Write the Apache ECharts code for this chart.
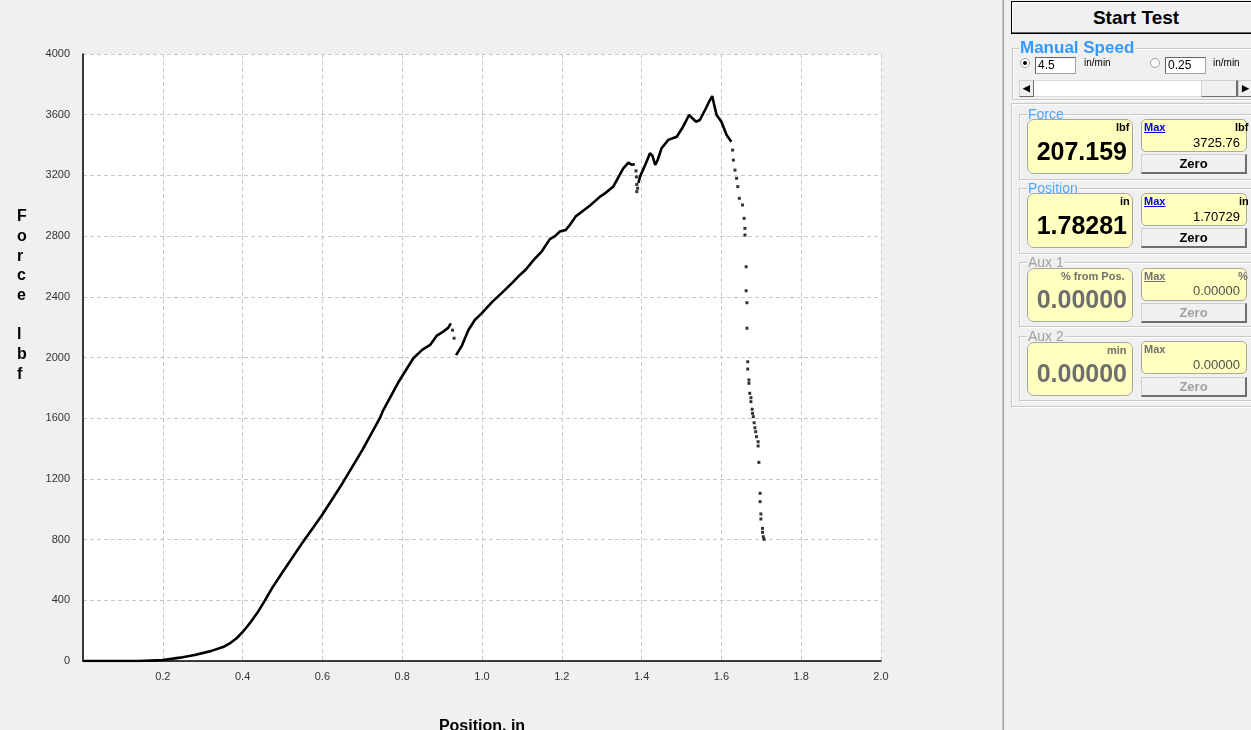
<!DOCTYPE html>
<html>
<head>
<meta charset="utf-8">
<script src="https://cdn.jsdelivr.net/npm/echarts@6/dist/echarts.min.js"></script>
<style>
  html,body{margin:0;padding:0;width:1251px;height:730px;overflow:hidden;background:#f0f0f0;font-family:"Liberation Sans",Arial,sans-serif;}
  #chart{position:absolute;left:0;top:0;width:1251px;height:730px;}
  .abs{position:absolute;box-sizing:border-box;}
  .sep1{left:1002px;top:0;width:1px;height:730px;background:#c8c8c8;}
  .sep2{left:1003px;top:0;width:1px;height:730px;background:#a0a0a0;}
  .btn{background:#f0f0f0;border:1px solid #000;box-shadow:inset -1px -1px 0 #696969, inset 1px 1px 0 #fff;text-align:center;font-weight:bold;}
  .frame{border:1px solid #c8c8c8;box-shadow:1px 1px 0 #fff, inset 1px 1px 0 #fff;}
  .title{background:#f0f0f0;padding:0 1px;font-weight:bold;line-height:1;white-space:nowrap;}
  .disp{background:#ffffc0;border:1px solid #a8a8a0;border-radius:7px;}
  .zero{background:#f0f0f0;border:1px solid #d0d0d0;border-right:2px solid #6e6e6e;border-bottom:2px solid #6e6e6e;text-align:center;font-weight:bold;font-size:13px;line-height:17px;}
  .small{font-size:11px;font-weight:bold;line-height:1;white-space:nowrap;}
  .big{font-size:25px;font-weight:bold;line-height:1;white-space:nowrap;text-align:right;}
  .mval{font-size:13px;line-height:1;white-space:nowrap;text-align:right;}
</style>
</head>
<body>
<div id="chart"></div>

<div class="abs sep1"></div><div class="abs sep2"></div>

<!-- Start Test -->
<div class="abs btn" style="left:1011px;top:1px;width:250px;height:33px;font-size:19px;line-height:31px;">Start Test</div>

<!-- Manual Speed -->
<div class="abs frame" style="left:1012px;top:48px;width:250px;height:52px;"></div>
<div class="abs title" style="left:1019px;top:39px;font-size:17px;color:#3399ff;">Manual Speed</div>
<div class="abs" style="left:1020px;top:58px;width:10px;height:10px;border-radius:50%;border:1px solid #a0a0a0;background:#fff;"></div>
<div class="abs" style="left:1023px;top:61px;width:4px;height:4px;border-radius:50%;background:#000;"></div>
<div class="abs" style="left:1035px;top:57px;width:41px;height:17px;background:#fff;border:1px solid #a0a0a0;border-top-color:#646464;border-left-color:#646464;font-size:12px;line-height:15px;padding-left:2px;">4.5</div>
<div class="abs" style="left:1084px;top:58px;font-size:10px;line-height:1;">in/min</div>
<div class="abs" style="left:1150px;top:58px;width:10px;height:10px;border-radius:50%;border:1px solid #a0a0a0;background:#fff;"></div>
<div class="abs" style="left:1165px;top:57px;width:41px;height:17px;background:#fff;border:1px solid #a0a0a0;border-top-color:#646464;border-left-color:#646464;font-size:12px;line-height:15px;padding-left:2px;">0.25</div>
<div class="abs" style="left:1213px;top:58px;font-size:10px;line-height:1;">in/min</div>
<div class="abs" style="left:1019px;top:80px;width:240px;height:17px;background:#fff;border:1px solid #d8d8d8;"></div>
<div class="abs zero" style="left:1019px;top:80px;width:15px;height:17px;font-size:9px;line-height:14px;border-width:1px;">&#9664;</div>
<div class="abs zero" style="left:1201px;top:80px;width:37px;height:17px;border-width:1px;border-right:2px solid #6e6e6e;"></div>
<div class="abs zero" style="left:1238px;top:80px;width:15px;height:17px;font-size:9px;line-height:14px;border-width:1px;">&#9654;</div>

<!-- outer readout frame -->
<div class="abs frame" style="left:1011px;top:103px;width:250px;height:304px;"></div>

<!-- Force -->
<div class="abs frame" style="left:1019px;top:114px;width:240px;height:66px;"></div>
<div class="abs title" style="left:1027px;top:107px;font-size:14px;color:#4da6ff;font-weight:normal;">Force</div>
<div class="abs disp" style="left:1027px;top:119px;width:106px;height:55px;"></div>
<div class="abs small" style="left:1116px;top:122px;">lbf</div>
<div class="abs big" style="left:1028px;top:139px;width:99px;">207.159</div>
<div class="abs disp" style="left:1141px;top:119px;width:106px;height:33px;border-radius:5px;"></div>
<div class="abs small" style="left:1144px;top:122px;color:#0000dd;text-decoration:underline;">Max</div>
<div class="abs small" style="left:1235px;top:122px;">lbf</div>
<div class="abs mval" style="left:1150px;top:136px;width:90px;">3725.76</div>
<div class="abs zero" style="left:1141px;top:154px;width:106px;height:20px;">Zero</div>

<!-- Position -->
<div class="abs frame" style="left:1019px;top:188px;width:240px;height:66px;"></div>
<div class="abs title" style="left:1027px;top:181px;font-size:14px;color:#4da6ff;font-weight:normal;">Position</div>
<div class="abs disp" style="left:1027px;top:193px;width:106px;height:55px;"></div>
<div class="abs small" style="left:1120px;top:196px;">in</div>
<div class="abs big" style="left:1028px;top:213px;width:99px;">1.78281</div>
<div class="abs disp" style="left:1141px;top:193px;width:106px;height:33px;border-radius:5px;"></div>
<div class="abs small" style="left:1144px;top:196px;color:#0000dd;text-decoration:underline;">Max</div>
<div class="abs small" style="left:1239px;top:196px;">in</div>
<div class="abs mval" style="left:1150px;top:210px;width:90px;">1.70729</div>
<div class="abs zero" style="left:1141px;top:228px;width:106px;height:20px;">Zero</div>

<!-- Aux 1 -->
<div class="abs frame" style="left:1019px;top:262px;width:240px;height:65px;"></div>
<div class="abs title" style="left:1027px;top:255px;font-size:14px;color:#a0a0a0;font-weight:normal;">Aux 1</div>
<div class="abs disp" style="left:1027px;top:268px;width:106px;height:54px;"></div>
<div class="abs small" style="left:1061px;top:271px;color:#707070;">% from Pos.</div>
<div class="abs big" style="left:1028px;top:287px;width:99px;color:#6e6e6e;">0.00000</div>
<div class="abs disp" style="left:1141px;top:268px;width:106px;height:33px;border-radius:5px;"></div>
<div class="abs small" style="left:1144px;top:271px;color:#707070;text-decoration:underline;">Max</div>
<div class="abs small" style="left:1238px;top:271px;color:#707070;">%</div>
<div class="abs mval" style="left:1150px;top:284px;width:90px;color:#505050;">0.00000</div>
<div class="abs zero" style="left:1141px;top:303px;width:106px;height:20px;color:#a0a0a0;">Zero</div>

<!-- Aux 2 -->
<div class="abs frame" style="left:1019px;top:336px;width:240px;height:65px;"></div>
<div class="abs title" style="left:1027px;top:329px;font-size:14px;color:#a0a0a0;font-weight:normal;">Aux 2</div>
<div class="abs disp" style="left:1027px;top:342px;width:106px;height:54px;"></div>
<div class="abs small" style="left:1107px;top:345px;color:#707070;">min</div>
<div class="abs big" style="left:1028px;top:361px;width:99px;color:#6e6e6e;">0.00000</div>
<div class="abs disp" style="left:1141px;top:341px;width:106px;height:33px;border-radius:5px;"></div>
<div class="abs small" style="left:1144px;top:344px;color:#707070;">Max</div>
<div class="abs mval" style="left:1150px;top:358px;width:90px;color:#505050;">0.00000</div>
<div class="abs zero" style="left:1141px;top:377px;width:106px;height:20px;color:#a0a0a0;">Zero</div>

<script>
// ---- data (position in, force lbf) ----
const curvePos = [
  0.000, 0.140, 0.145, 0.200, 0.243, 0.280, 0.320, 0.351, 0.370, 0.385, 0.401,
  0.420, 0.440, 0.456, 0.475, 0.500, 0.550, 0.600, 0.650, 0.700, 0.744,
  0.752, 0.790, 0.828, 0.850, 0.870, 0.875, 0.886, 0.900, 0.915, 0.922,
  0.924,
  0.935, 0.938, 0.950, 0.966, 0.982, 0.999, 1.025, 1.053, 1.075, 1.095, 1.110,
  1.129, 1.150, 1.170, 1.183, 1.195, 1.210, 1.220, 1.235, 1.246, 1.270, 1.296,
  1.310, 1.329, 1.354, 1.367, 1.375, 1.383,
  1.385,
  1.392, 1.396, 1.409, 1.421, 1.427, 1.434, 1.440, 1.450, 1.467, 1.488, 1.504,
  1.519, 1.528, 1.536, 1.546, 1.559, 1.570, 1.577, 1.581, 1.588, 1.600, 1.613, 1.625
];
const curveForce = [
  0, 0, 3, 6, 22, 40, 65, 92, 120, 150, 193,
  255, 330, 400, 485, 585, 780, 965, 1170, 1390, 1600,
  1650, 1835, 1995, 2050, 2083, 2075, 2142, 2165, 2195, 2225,
  null,
  2016, 2010, 2080, 2181, 2247, 2291, 2365, 2434, 2490, 2544, 2580,
  2642, 2700, 2780, 2800, 2830, 2840, 2873, 2930, 2952, 3000, 3060,
  3085, 3126, 3247, 3284, 3270, 3273,
  null,
  3150, 3192, 3269, 3346, 3330, 3269, 3300, 3379, 3434, 3455, 3521,
  3598, 3575, 3554, 3565, 3631, 3690, 3723, 3675, 3598, 3554, 3466, 3422
];
// sparse individually recorded points
const dotPos = [
  0.926, 0.930,
  1.386, 1.387, 1.388, 1.388, 1.390,
  1.628, 1.630, 1.634, 1.638, 1.641, 1.645, 1.653, 1.657, 1.659, 1.659,
  1.662, 1.662, 1.664, 1.664, 1.666, 1.666, 1.669, 1.669, 1.671, 1.674, 1.674,
  1.677, 1.678, 1.680, 1.682, 1.684, 1.686, 1.688, 1.692, 1.692, 1.694, 1.697,
  1.697, 1.699, 1.699, 1.703, 1.703, 1.705, 1.707
];
const dotForce = [
  2180, 2127,
  3230, 3190, 3140, 3093, 3115,
  3367, 3301, 3235, 3181, 3126, 3049, 3005, 2917, 2851, 2807,
  2598, 2440, 2361, 2193, 1972, 1924, 1852, 1830, 1764, 1735, 1709,
  1659, 1632, 1610, 1570, 1537, 1511, 1478, 1445, 1417, 1309, 1105,
  1050, 969, 936, 874, 848, 819, 802
];
const xMin = 0, xMax = 2.0, xStep = 0.2;
const yMin = 0, yMax = 4000, yStep = 400;
const xName = 'Position, in';
const yNameLetters = ['F','o','r','c','e','','l','b','f'];

const chart = echarts.init(document.getElementById('chart'), null, {renderer:'canvas'});
const lineData = curvePos.map((x, i) => [x, curveForce[i] === null ? '-' : curveForce[i]]);
const dotData = dotPos.map((x, i) => [x, dotForce[i]]);

chart.setOption({
  animation: false,
  backgroundColor: 'transparent',
  grid: {left: 83, right: 370, top: 54, bottom: 69, show: true, backgroundColor: '#ffffff',
         borderWidth: 0, containLabel: false, outerBoundsMode: 'none'},
  xAxis: {
    type: 'value', min: xMin, max: xMax, interval: xStep,
    name: xName, nameLocation: 'middle', nameGap: 58,
    nameTextStyle: {fontFamily: 'Liberation Sans', fontWeight: 'bold', fontSize: 16, color: '#000'},
    axisLine: {lineStyle: {color: '#000', width: 1.5}},
    axisTick: {show: false},
    axisLabel: {margin: 10, fontFamily: 'Liberation Sans', fontSize: 11, color: '#333',
      formatter: v => (Math.abs(v) < 1e-9 ? '' : v.toFixed(1))},
    splitLine: {show: true, lineStyle: {color: '#c8c8c8', type: [4, 3], width: 1}}
  },
  yAxis: {
    type: 'value', min: yMin, max: yMax, interval: yStep,
    axisLine: {show: true, lineStyle: {color: '#000', width: 1.5}},
    axisTick: {show: false},
    axisLabel: {margin: 13, fontFamily: 'Liberation Sans', fontSize: 11, color: '#333',
      formatter: v => String(Math.round(v))},
    splitLine: {show: true, lineStyle: {color: '#c8c8c8', type: [4, 3], width: 1}}
  },
  graphic: [{
    type: 'text', left: 17, top: 207, silent: true,
    style: {text: yNameLetters.join('\n'), font: 'bold 16px "Liberation Sans"', fill: '#000', lineHeight: 19.7}
  }],
  series: [
    {type: 'line', data: lineData, showSymbol: false, connectNulls: false,
     lineStyle: {color: '#000', width: 2.6}, z: 3},
    {type: 'scatter', data: dotData, symbol: 'rect', symbolSize: 3,
     itemStyle: {color: '#000'}, z: 4}
  ]
});
</script>
</body>
</html>
